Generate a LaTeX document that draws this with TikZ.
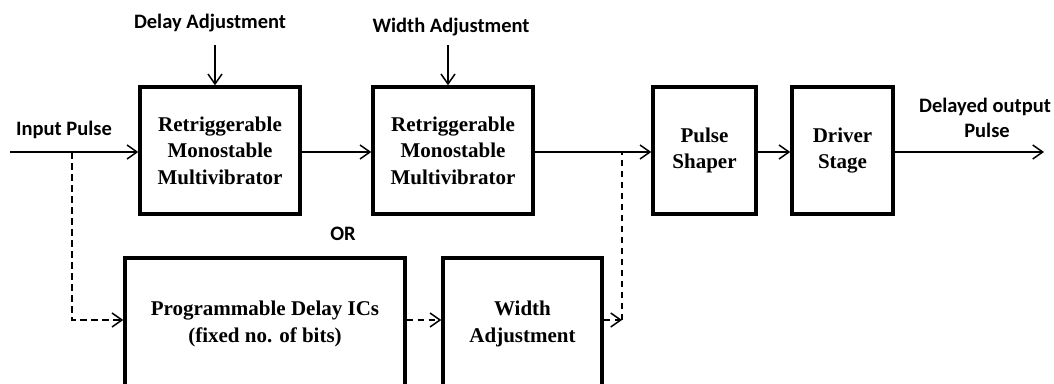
\documentclass[tikz,border=0pt]{standalone}
\usepackage{fontspec}
\setmainfont{Liberation Serif}
\newfontfamily\lblfont{Carlito}
\usetikzlibrary{arrows.meta}
\begin{document}
\begin{tikzpicture}[x=1pt,y=-1pt,
  box/.style={draw,line width=3.4pt,rectangle,inner sep=0pt,align=center,
    font=\fontsize{21}{26.5}\selectfont\bfseries},
  lbl/.style={font=\fontsize{20.5}{25}\selectfont\lblfont\bfseries,inner sep=0pt,align=center},
  conn/.style={line width=1.5pt,-{Straight Barb[length=10pt,width=14pt,line width=1.5pt]}},
  dconn/.style={conn,dash pattern=on 6.5pt off 4.5pt},
  dline/.style={line width=1.5pt,dash pattern=on 6.5pt off 4.5pt}]
\clip (0,0) rectangle (1054,383);
\useasboundingbox (0,0) rectangle (1054,383);
\fill[white] (0,0) rectangle (1054,383);
% boxes
\node[box,minimum width=160pt,minimum height=127pt] (b1) at (220,150.5)
  {Retriggerable\\Monostable\\Multivibrator};
\node[box,minimum width=160pt,minimum height=127pt] (b2) at (453,150.5)
  {Retriggerable\\Monostable\\Multivibrator};
\node[box,minimum width=103pt,minimum height=127pt] (ps) at (704.5,150.5)
  {Pulse\\Shaper};
\node[box,minimum width=101pt,minimum height=127pt] (ds) at (842.5,150.5)
  {Driver\\Stage};
\node[box,minimum width=280pt,minimum height=132pt] (pd) at (265,324)
  {Programmable Delay ICs\\(fixed no. of bits)};
\node[box,minimum width=159pt,minimum height=132pt] (wa) at (522.5,324)
  {Width\\Adjustment};
% labels
\node[lbl,anchor=base] (ldel) at (210,28) {Delay Adjustment};
\node[lbl,anchor=base] (lwid) at (451,32) {Width Adjustment};
\node[lbl,anchor=base] (lin) at (64,135) {Input Pulse};
\node[lbl,anchor=base] (lout) at (985,112) {Delayed output};
\node[lbl,anchor=base] (lout2) at (987,137) {Pulse};
\node[lbl,anchor=base] (lor) at (343,240) {OR};
% coordinates
\coordinate (in) at (10,152);
\coordinate (out) at (1044,152);
\coordinate (split) at (72,152);
\coordinate (join) at (622,152);
\coordinate (d1) at (215,45);
\coordinate (w1) at (448,45);
% connectors
\draw[conn] (in) -- (in -| b1.west);
\draw[conn] (b1.east |- in) -- (b2.west |- in);
\draw[conn] (b2.east |- in) -- (ps.west |- in);
\draw[conn] (ps.east |- in) -- (ds.west |- in);
\draw[conn] (ds.east |- in) -- (out);
\draw[conn] (d1) -- (d1 |- b1.north);
\draw[conn] (w1) -- (w1 |- b2.north);
\draw[dconn] (split) -- (split |- 0,320) -- (pd.west |- 0,320);
\draw[dconn] (pd.east |- 0,320) -- (wa.west |- 0,320);
\draw[dconn] (wa.east |- 0,320) -- (join |- 0,320);
\draw[dline] (join |- 0,320) -- (join);
\end{tikzpicture}
\end{document}
